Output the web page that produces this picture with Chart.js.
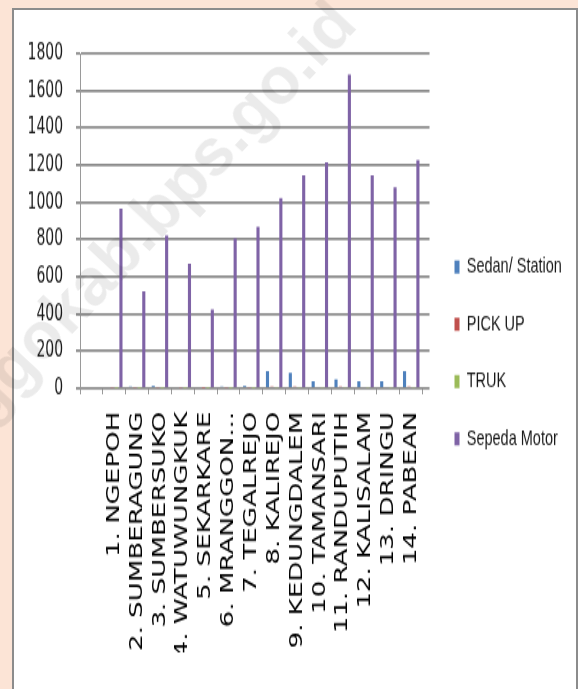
<!DOCTYPE html>
<html>
<head>
<meta charset="utf-8">
<script src="https://cdn.jsdelivr.net/npm/chart.js"></script>
<style>
    html, body { margin: 0; padding: 0; }
    body { width: 578px; height: 689px; background: #fce4d6; position: relative; overflow: hidden; }
    #panel { position: absolute; left: 12px; top: 8px; width: 566px; height: 700px; background: #fff; border: 2px solid #8c8c8c; box-sizing: border-box; }
    /* the source picture is stretched vertically, so the chart is drawn flat and scaled */
    #wrap { position: absolute; left: 14px; top: 10px; width: 560px; height: 466px; transform: scaleY(1.45); transform-origin: 0 0; }
    #mark { position: absolute; left: 66px; top: 307px; transform: translate(-50%, -50%) rotate(-47deg);
            font: bold 66px "Liberation Sans", Arial, sans-serif; color: rgba(0, 0, 0, 0.08);
            white-space: nowrap; pointer-events: none; }
</style>
</head>
<body>
<div id="panel"></div>
<div id="wrap"><canvas id="chart"></canvas></div>
<div id="mark">probolinggokab.bps.go.id</div>
<script>
// values
const categories = ['1. NGEPOH', '2. SUMBERAGUNG', '3. SUMBERSUKO', '4. WATUWUNGKUK', '5. SEKARKARE',
    '6. MRANGGON...', '7. TEGALREJO', '8. KALIREJO', '9. KEDUNGDALEM', '10. TAMANSARI',
    '11. RANDUPUTIH', '12. KALISALAM', '13. DRINGU', '14. PABEAN'];
const sedanStation = [8, 9, 14, 7, 8, 9, 14, 93, 84, 39, 48, 39, 39, 93];
const pickUp = [5, 6, 6, 5, 4, 6, 6, 10, 9, 8, 9, 8, 8, 10];
const truk = [3, 4, 4, 3, 3, 4, 4, 6, 6, 5, 5, 5, 5, 6];
const sepedaMotor = [966, 523, 822, 670, 424, 806, 869, 1023, 1146, 1216, 1687, 1146, 1082, 1227];
const yTicks = [0, 200, 400, 600, 800, 1000, 1200, 1400, 1600, 1800];

const seriesNames = ['Sedan/ Station', 'PICK UP', 'TRUK', 'Sepeda Motor'];
const seriesColors = ['#4f81bd', '#c0504d', '#9bbb59', '#7f63a6'];
const seriesValues = [sedanStation, pickUp, truk, sepedaMotor];

function toPoints(values) {
    return values.map((v, i) => ({ x: i, y: v }));
}

const ctx = document.getElementById('chart').getContext('2d');
new Chart(ctx, {
    type: 'bar',
    data: {
        datasets: seriesValues.map((vals, i) => ({
            label: seriesNames[i],
            data: toPoints(vals),
            backgroundColor: seriesColors[i],
            borderWidth: 0,
            categoryPercentage: 0.78,
            barPercentage: 0.7
        }))
    },
    options: {
        responsive: true,
        maintainAspectRatio: false,
        animation: false,
        layout: { padding: { top: 30, left: 0, right: 6, bottom: 23 } },
        scales: {
            x: {
                type: 'linear',
                offset: false,
                // Excel left an empty slot before the first district
                min: -1.5,
                max: 13.8,
                afterBuildTicks: function (axis) {
                    axis.ticks = [-1].concat(categories.map((c, i) => i)).map(v => ({ value: v }));
                },
                afterFit: function (axis) { axis.height = 182; },
                grid: { offset: true, drawOnChartArea: false, tickLength: 4, color: '#9a9a9a', lineWidth: 1 },
                border: { display: false },
                ticks: {
                    autoSkip: false,
                    minRotation: 90,
                    maxRotation: 90,
                    padding: 12,
                    color: '#000',
                    font: { family: '"DejaVu Sans", sans-serif', size: 18 },
                    callback: function (value) { return categories[value] || ''; }
                }
            },
            y: {
                min: 0,
                max: 1800,
                afterBuildTicks: function (axis) {
                    axis.ticks = yTicks.map(v => ({ value: v }));
                },
                afterFit: function (axis) { axis.width = 66; },
                grid: { color: '#8c8c8c', lineWidth: 1.8, tickLength: 4 },
                border: { display: true, color: '#9a9a9a', width: 1 },
                ticks: {
                    padding: 13,
                    color: '#1a1a1a',
                    font: { family: '"Liberation Sans Narrow", "DejaVu Sans Condensed", sans-serif', size: 15.5 },
                    callback: function (value) { return String(value); }
                }
            }
        },
        plugins: {
            legend: {
                position: 'right',
                labels: {
                    boxWidth: 5,
                    boxHeight: 9,
                    padding: 25,
                    color: '#1a1a1a',
                    font: { family: '"Liberation Sans", Arial, sans-serif', size: 14.5 }
                }
            },
            tooltip: { enabled: false }
        }
    }
});
</script>
</body>
</html>
